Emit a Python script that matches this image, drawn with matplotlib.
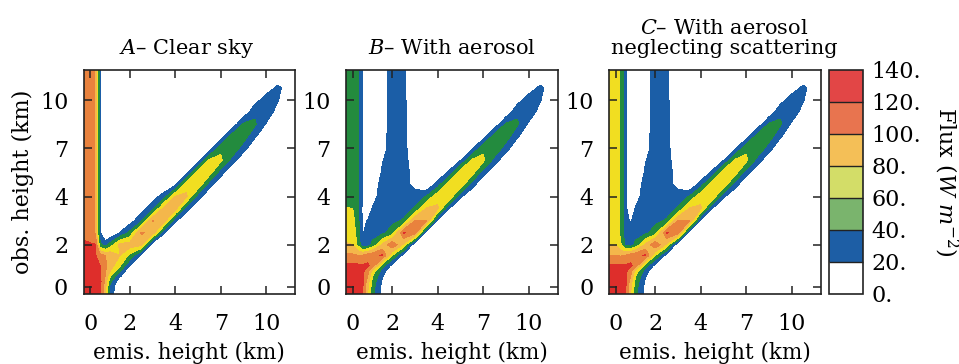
import numpy as np
import matplotlib
matplotlib.use("Agg")
import matplotlib.pyplot as plt
from matplotlib.colors import ListedColormap, BoundaryNorm
from matplotlib.cm import ScalarMappable

plt.rcParams["font.family"] = ["DejaVu Serif"]
plt.rcParams["mathtext.fontset"] = "dejavuserif"

# ---------------- data ----------------
EMIS_KM = [-0.345, 0.0, 0.25, 0.5, 0.75, 1.0, 1.5, 2.0, 2.5, 3.0, 3.5, 4.0,
           4.75, 5.5, 6.25, 7.0, 7.75, 8.5, 9.25, 10.0, 10.75, 11.5, 11.9]
OBS_KM = [-0.345, 0.0, 0.25, 0.5, 0.75, 1.0, 1.5, 2.0, 2.5, 3.0, 3.5, 4.0,
          4.75, 5.5, 6.25, 7.0, 7.75, 8.5, 9.25, 10.0, 10.75, 11.5, 11.9]

# flux (W m-2), rows = obs height (bottom to top), columns = emis height
FLUX_A = [
    [135,135,132,124,85,32,0,0,0,0,0,0,0,0,0,0,0,0,0,0,0,0,0],
    [135,135,132,124,88,35,0,0,0,0,0,0,0,0,0,0,0,0,0,0,0,0,0],
    [135,135,132,125,95,45,5,0,0,0,0,0,0,0,0,0,0,0,0,0,0,0,0],
    [135,134,130,122,100,62,22,0,0,0,0,0,0,0,0,0,0,0,0,0,0,0,0],
    [135,134,128,122,103,80,42,0,0,0,0,0,0,0,0,0,0,0,0,0,0,0,0],
    [135,133,127,120,105,90,62,20,0,0,0,0,0,0,0,0,0,0,0,0,0,0,0],
    [135,132,122,105,100,95,80,55,15,0,0,0,0,0,0,0,0,0,0,0,0,0,0],
    [123,122,121,45,30,48,85,90,85,5,0,0,0,0,0,0,0,0,0,0,0,0,0],
    [115,110,98,22,0,0,21,45,103,92,22,0,0,0,0,0,0,0,0,0,0,0,0],
    [115,110,98,22,0,0,0,10,35,101,90,24,0,0,0,0,0,0,0,0,0,0,0],
    [115,110,98,22,0,0,0,0,12,32,87,87,28,0,0,0,0,0,0,0,0,0,0],
    [115,110,98,22,0,0,0,0,0,10,30,82,82,30,0,0,0,0,0,0,0,0,0],
    [115,110,98,22,0,0,0,0,0,0,0,15,76,76,30,0,0,0,0,0,0,0,0],
    [115,110,98,22,0,0,0,0,0,0,0,0,12,70,70,30,0,0,0,0,0,0,0],
    [115,110,98,22,0,0,0,0,0,0,0,0,0,10,64,64,32,0,0,0,0,0,0],
    [115,110,98,22,0,0,0,0,0,0,0,0,0,0,8,56,56,30,0,0,0,0,0],
    [115,110,98,22,0,0,0,0,0,0,0,0,0,0,0,6,50,50,24,0,0,0,0],
    [115,110,98,22,0,0,0,0,0,0,0,0,0,0,0,0,4,43,43,18,0,0,0],
    [115,110,98,22,0,0,0,0,0,0,0,0,0,0,0,0,0,4,36,36,10,0,0],
    [115,110,98,22,0,0,0,0,0,0,0,0,0,0,0,0,0,0,12,30,22,0,0],
    [115,110,98,22,0,0,0,0,0,0,0,0,0,0,0,0,0,0,0,10,24,12,0],
    [115,110,98,22,0,0,0,0,0,0,0,0,0,0,0,0,0,0,0,0,8,14,5],
    [115,110,98,22,0,0,0,0,0,0,0,0,0,0,0,0,0,0,0,0,0,0,0],
]

FLUX_B = [
    [135,135,130,122,80,45,12,0,0,0,0,0,0,0,0,0,0,0,0,0,0,0,0],
    [135,135,130,122,85,48,14,0,0,0,0,0,0,0,0,0,0,0,0,0,0,0,0],
    [135,135,130,123,90,52,16,0,0,0,0,0,0,0,0,0,0,0,0,0,0,0,0],
    [135,135,130,124,100,60,22,0,0,0,0,0,0,0,0,0,0,0,0,0,0,0,0],
    [135,134,128,124,110,72,30,0,0,0,0,0,0,0,0,0,0,0,0,0,0,0,0],
    [125,125,124,123,124,110,48,12,0,0,0,0,0,0,0,0,0,0,0,0,0,0,0],
    [103,103,100,100,110,115,122,60,12,0,0,0,0,0,0,0,0,0,0,0,0,0,0],
    [81,80,55,25,30,45,85,118,75,0,0,0,0,0,0,0,0,0,0,0,0,0,0],
    [76,72,50,18,30,32,35,50,122,108,10,0,0,0,0,0,0,0,0,0,0,0,0],
    [70,66,48,16,21,30,32,35,42,101,101,15,0,0,0,0,0,0,0,0,0,0,0],
    [61,60,48,15,5,22,30,30,32,42,82,82,20,0,0,0,0,0,0,0,0,0,0],
    [52,50,42,18,0,12,30,32,32,30,42,76,76,24,0,0,0,0,0,0,0,0,0],
    [52,50,42,18,0,8,28,32,30,12,0,30,74,74,30,0,0,0,0,0,0,0,0],
    [52,50,42,18,0,0,23,32,30,10,0,0,24,70,70,30,0,0,0,0,0,0,0],
    [52,50,42,18,0,0,19,30,29,5,0,0,0,20,64,64,32,0,0,0,0,0,0],
    [52,50,42,18,0,0,12,30,28,0,0,0,0,0,15,56,56,30,0,0,0,0,0],
    [52,50,42,18,0,0,12,30,28,0,0,0,0,0,0,10,50,50,24,0,0,0,0],
    [52,50,42,18,0,0,10,30,27,0,0,0,0,0,0,0,6,43,43,16,0,0,0],
    [52,50,42,18,0,0,10,30,26,0,0,0,0,0,0,0,0,5,36,36,10,0,0],
    [52,50,42,18,0,0,8,30,25,0,0,0,0,0,0,0,0,0,12,30,22,0,0],
    [52,50,42,18,0,0,8,30,25,0,0,0,0,0,0,0,0,0,0,10,24,12,0],
    [52,50,42,18,0,0,8,30,25,0,0,0,0,0,0,0,0,0,0,0,8,14,5],
    [52,50,42,18,0,0,8,30,25,0,0,0,0,0,0,0,0,0,0,0,0,0,0],
]

FLUX_C = [
    [135,135,130,122,80,45,12,0,0,0,0,0,0,0,0,0,0,0,0,0,0,0,0],
    [135,135,130,122,85,48,14,0,0,0,0,0,0,0,0,0,0,0,0,0,0,0,0],
    [135,135,130,123,90,52,16,0,0,0,0,0,0,0,0,0,0,0,0,0,0,0,0],
    [135,135,130,124,100,60,22,0,0,0,0,0,0,0,0,0,0,0,0,0,0,0,0],
    [135,134,128,124,110,72,30,0,0,0,0,0,0,0,0,0,0,0,0,0,0,0,0],
    [122,122,122,123,124,110,48,12,0,0,0,0,0,0,0,0,0,0,0,0,0,0,0],
    [100,100,98,100,110,115,122,60,12,0,0,0,0,0,0,0,0,0,0,0,0,0,0],
    [78,78,62,35,30,45,85,118,75,0,0,0,0,0,0,0,0,0,0,0,0,0,0],
    [72,70,56,25,30,32,35,50,122,108,10,0,0,0,0,0,0,0,0,0,0,0,0],
    [72,70,56,25,18,30,32,35,42,101,101,15,0,0,0,0,0,0,0,0,0,0,0],
    [72,70,56,25,5,22,30,30,32,42,82,82,20,0,0,0,0,0,0,0,0,0,0],
    [72,70,56,25,1,12,30,32,32,30,42,76,76,24,0,0,0,0,0,0,0,0,0],
    [72,70,56,25,1,8,28,32,30,12,0,30,74,74,30,0,0,0,0,0,0,0,0],
    [72,70,56,25,1,0,23,32,30,10,0,0,24,70,70,30,0,0,0,0,0,0,0],
    [72,70,56,25,1,0,19,30,29,5,0,0,0,20,64,64,32,0,0,0,0,0,0],
    [72,70,56,25,1,0,12,30,28,0,0,0,0,0,15,56,56,30,0,0,0,0,0],
    [72,70,56,25,1,0,12,30,28,0,0,0,0,0,0,10,50,50,24,0,0,0,0],
    [72,70,56,25,1,0,10,30,27,0,0,0,0,0,0,0,6,43,43,16,0,0,0],
    [72,70,56,25,1,0,10,30,26,0,0,0,0,0,0,0,0,5,36,36,10,0,0],
    [72,70,56,25,1,0,8,30,25,0,0,0,0,0,0,0,0,0,12,30,22,0,0],
    [72,70,56,25,1,0,8,30,25,0,0,0,0,0,0,0,0,0,0,10,24,12,0],
    [72,70,56,25,1,0,8,30,25,0,0,0,0,0,0,0,0,0,0,0,8,14,5],
    [72,70,56,25,1,0,8,30,25,0,0,0,0,0,0,0,0,0,0,0,0,0,0],
]

FLUX_LEVELS = [0, 20, 40, 60, 80, 100, 120, 140]
CBAR_LABELS = ["0.", "20.", "40.", "60.", "80.", "100.", "120.", "140."]
TICK_KM = [0, 2, 4, 7, 10]
TICK_LABELS = ["0", "2", "4", "7", "10"]
TITLES = [r"$A$– Clear sky", r"$B$– With aerosol",
          "$C$– With aerosol\nneglecting scattering"]

# ---------------- style ----------------
PLOT_COLORS = ["#ffffff", "#1b5ea7", "#238b3e", "#f1de21", "#f4b74b",
               "#e9823d", "#de2e2b"]
CBAR_COLORS = ["#ffffff", "#1d5ea5", "#7ab46d", "#d3dd68", "#f4bf57",
               "#e8744f", "#e24646"]

# height axis: piecewise-linear model-level coordinate
SCALE_KM = [-2.0, 0.0, 2.0, 4.0, 7.0, 10.0, 16.0]
SCALE_POS = [-0.87, 0.0, 0.87, 1.87, 2.87, 3.87, 5.87]


def fwd(v):
    return np.interp(v, SCALE_KM, SCALE_POS)


def inv(v):
    return np.interp(v, SCALE_POS, SCALE_KM)


W, H = 959.0, 364.0
fig = plt.figure(figsize=(W / 100, H / 100), dpi=100)

panel_lefts = [83.5, 346.0, 609.0]
title_x = [0.489, 0.501, 0.544]
for k, (left, flux, title, tx) in enumerate(
        zip(panel_lefts, [FLUX_A, FLUX_B, FLUX_C], TITLES, title_x)):
    ax = fig.add_axes([left / W, (H - 294.0) / H, 211.5 / W, 224.5 / H])
    ax.set_xscale("function", functions=(fwd, inv))
    ax.set_yscale("function", functions=(fwd, inv))
    ax.contourf(EMIS_KM, OBS_KM, np.array(flux, dtype=float),
                levels=FLUX_LEVELS, colors=PLOT_COLORS)
    ax.set_xlim(EMIS_KM[0], EMIS_KM[-1])
    ax.set_ylim(OBS_KM[0], OBS_KM[-1])
    ax.set_xticks(TICK_KM, TICK_LABELS)
    ax.set_yticks(TICK_KM, TICK_LABELS)
    ax.minorticks_off()
    ax.tick_params(direction="in", top=True, right=True, length=6,
                   width=1.1, labelsize=16, color="#222222")
    ax.tick_params(axis="x", pad=14)
    ax.tick_params(axis="y", pad=11)
    ax.set_xlabel("emis. height (km)", fontsize=15.5, labelpad=5)
    if k == 0:
        ax.set_ylabel("obs. height (km)", fontsize=16, labelpad=4)
    ax.set_title(title, fontsize=15, pad=11, x=tx, linespacing=1.1)
    for s in ax.spines.values():
        s.set_linewidth(1.2)
        s.set_color("#222222")

cax = fig.add_axes([829.0 / W, (H - 293.5) / H, 34.0 / W, 224.0 / H])
sm = ScalarMappable(norm=BoundaryNorm(FLUX_LEVELS, len(CBAR_COLORS)),
                    cmap=ListedColormap(CBAR_COLORS))
cb = fig.colorbar(sm, cax=cax, ticks=FLUX_LEVELS, drawedges=True)
cb.ax.set_yticklabels(CBAR_LABELS)
cb.ax.tick_params(length=0, labelsize=16, pad=6)
cb.outline.set_linewidth(1.2)
cb.outline.set_edgecolor("#222222")
cb.dividers.set_linewidth(1.0)
cb.dividers.set_color("#222222")
cb.set_label(r"Flux ($W\ m^{-2}$)", rotation=270, va="bottom",
             fontsize=16, labelpad=8)

fig.savefig("out.png", dpi=100)
